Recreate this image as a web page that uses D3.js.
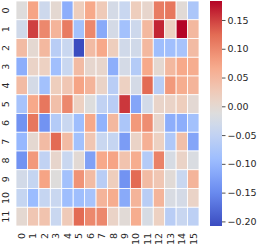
<!DOCTYPE html>
<html>
<head>
<meta charset="utf-8">
<script src="https://cdn.jsdelivr.net/npm/d3@7"></script>
<style>
  body { margin: 0; background: #fff; }
  svg { display: block; }
  text { font-family: "DejaVu Sans", sans-serif; font-size: 9.5px; fill: #262626; }
</style>
</head>
<body>
<svg width="257" height="245"></svg>
<script>
const rowLabels = d3.range(12).map(String);
const colLabels = d3.range(16).map(String);

// heatmap values, row by row
const row0  = [-0.01, 0.075, -0.035, 0.0, -0.11, 0.02, 0.07, 0.025, -0.025, -0.04, 0.02, 0.005, 0.11, 0.115, -0.005, -0.075];
const row1  = [-0.03, 0.15, 0.1, 0.055, 0.11, -0.085, 0.1, -0.115, -0.025, -0.085, -0.035, 0.05, 0.165, 0.015, 0.183, 0.05];
const row2  = [0.045, 0.0, 0.05, -0.06, -0.04, -0.208, 0.045, 0.07, 0.02, -0.03, -0.03, 0.05, -0.09, -0.088, -0.08, 0.045];
const row3  = [-0.11, 0.01, 0.015, -0.088, -0.04, 0.045, 0.003, 0.005, -0.11, -0.025, -0.065, 0.07, 0.0, 0.05, 0.07, 0.065];
const row4  = [0.045, -0.025, -0.085, 0.02, 0.03, 0.075, 0.055, 0.01, -0.06, 0.015, -0.025, 0.125, -0.06, 0.085, 0.065, 0.055];
const row5  = [-0.08, 0.07, 0.115, 0.04, 0.1, 0.015, -0.012, -0.05, -0.06, 0.155, -0.12, -0.028, 0.008, 0.01, 0.02, -0.002];
const row6  = [-0.14, 0.115, -0.14, -0.065, -0.04, -0.09, 0.07, -0.105, 0.05, -0.075, 0.085, 0.095, 0.005, -0.11, -0.11, -0.085];
const row7  = [-0.1, 0.0, 0.045, 0.125, 0.045, -0.085, 0.03, -0.04, -0.045, -0.13, 0.01, 0.06, 0.015, -0.07, 0.04, -0.12];
const row8  = [-0.14, 0.085, -0.05, 0.005, -0.04, -0.003, -0.125, 0.07, 0.075, 0.035, 0.065, -0.065, 0.105, -0.022, 0.01, -0.018];
const row9  = [-0.028, -0.045, 0.075, -0.01, -0.085, 0.09, 0.045, -0.06, 0.02, -0.14, 0.125, 0.045, 0.03, -0.005, -0.04, 0.055];
const row10 = [-0.045, -0.095, -0.045, -0.04, -0.09, -0.09, -0.08, 0.055, 0.065, -0.115, 0.055, -0.06, 0.055, -0.02, -0.025, 0.01];
const row11 = [0.0, 0.03, 0.035, -0.04, 0.025, 0.125, 0.1, 0.1, 0.01, -0.005, 0.065, -0.022, 0.015, -0.06, -0.042, -0.055];
const values = [row0, row1, row2, row3, row4, row5, row6, row7, row8, row9, row10, row11];

const cbarTicks = [-0.20, -0.15, -0.10, -0.05, 0.00, 0.05, 0.10, 0.15];

const cells = [];
values.forEach((r, i) => r.forEach((v, j) => cells.push({ row: rowLabels[i], col: colLabels[j], v })));

const [vmin, vmax] = d3.extent(cells, d => d.v);

// matplotlib coolwarm, sampled
const coolwarm = d3.scaleLinear()
  .domain([0, 1/7, 2/7, 3/7, 0.5, 4/7, 5/7, 6/7, 1])
  .range(["#3b4cc0", "#6788ee", "#9abbff", "#c9d7f0", "#dddddd", "#edd1c2", "#f7a889", "#e26952", "#b40426"])
  .interpolate(d3.interpolateRgb);
const color = v => coolwarm((v - vmin) / (vmax - vmin));

const svg = d3.select("svg");
const mLeft = 16, mRight = 199, mTop = 1, mBottom = 226;

const x = d3.scaleBand().domain(colLabels).range([mLeft, mRight]);
const y = d3.scaleBand().domain(rowLabels).range([mTop, mBottom]);

svg.append("g")
  .selectAll("rect")
  .data(cells)
  .enter().append("rect")
  .attr("x", d => x(d.col))
  .attr("y", d => y(d.row))
  .attr("width", x.bandwidth())
  .attr("height", y.bandwidth())
  .attr("fill", d => color(d.v))
  .attr("stroke", "#fff")
  .attr("stroke-width", 0.8);

// row labels
svg.append("g")
  .selectAll("text")
  .data(rowLabels)
  .enter().append("text")
  .attr("transform", d => `translate(5.5,${y(d) + y.bandwidth() / 2}) rotate(-90)`)
  .attr("text-anchor", "middle")
  .attr("dy", "0.35em")
  .text(d => d);

// column labels
svg.append("g")
  .selectAll("text")
  .data(colLabels)
  .enter().append("text")
  .attr("transform", d => `translate(${x(d) + x.bandwidth() / 2},233) rotate(-90)`)
  .attr("text-anchor", "end")
  .attr("dy", "0.35em")
  .text(d => d);

// colorbar
const cbX = 210, cbW = 12;
const cbScale = d3.scaleLinear().domain([vmin, vmax]).range([mBottom, mTop]);

const grad = svg.append("defs").append("linearGradient")
  .attr("id", "cbar")
  .attr("x1", 0).attr("y1", 1).attr("x2", 0).attr("y2", 0);
grad.selectAll("stop")
  .data(d3.range(0, 1.0001, 0.05))
  .enter().append("stop")
  .attr("offset", d => d)
  .attr("stop-color", d => coolwarm(d));

svg.append("rect")
  .attr("x", cbX).attr("y", mTop)
  .attr("width", cbW).attr("height", mBottom - mTop)
  .attr("fill", "url(#cbar)");

const cbAxis = svg.append("g")
  .attr("transform", `translate(${cbX + cbW},0)`)
  .call(d3.axisRight(cbScale).tickValues(cbarTicks).tickFormat(d3.format(".2f")).tickSize(3.5).tickPadding(2));
cbAxis.select(".domain").remove();
cbAxis.selectAll("line").attr("stroke", "#262626").attr("stroke-width", 0.8);
cbAxis.selectAll("text").attr("font-family", null).attr("font-size", null).style("fill", "#262626");
</script>
</body>
</html>
